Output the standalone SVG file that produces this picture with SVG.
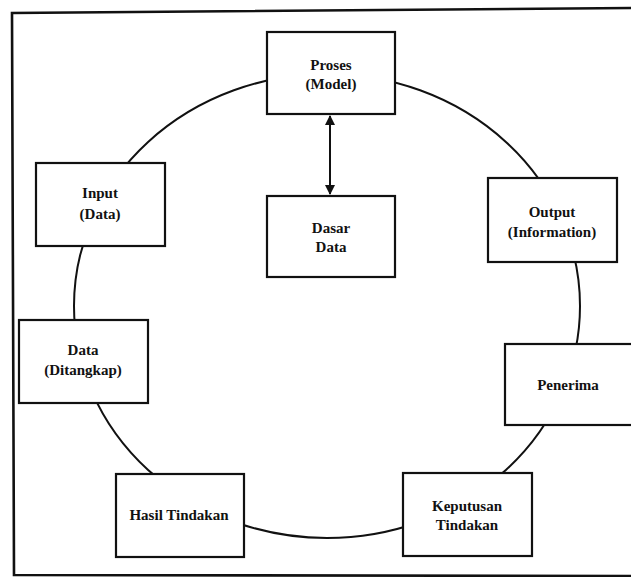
<svg xmlns="http://www.w3.org/2000/svg" width="631" height="577" viewBox="0 0 631 577">
  <style>
    .box { fill: #ffffff; stroke: #111111; stroke-width: 2.2; }
    .lbl { font-family: 'Liberation Serif', 'DejaVu Serif', serif; font-size: 15px; font-weight: 700; fill: #111111; text-anchor: middle; }
    .ring { fill: none; stroke: #111111; stroke-width: 2; }
    .frame { fill: none; stroke: #111111; stroke-width: 2.6; }
    .link { stroke: #111111; stroke-width: 2; fill: none; }
  </style>
  <defs>
    <marker id="head" viewBox="0 0 10 10" refX="9" refY="5" markerWidth="10" markerHeight="10" markerUnits="userSpaceOnUse" orient="auto-start-reverse">
      <path d="M0,0 L10,5 L0,10 Z" fill="#111111"/>
    </marker>
  </defs>

  <rect x="0" y="0" width="631" height="577" fill="#ffffff"/>

  <!-- outer frame (open on the right edge) -->
  <path class="frame" d="M640,8 L12,13 L14,575 L640,576"/>

  <!-- connectors: the cycle ring and the process/database link -->
  <g id="connectors">
    <ellipse class="ring" cx="327" cy="306" rx="253" ry="232"/>
    <line class="link" x1="330" y1="116" x2="330" y2="194" marker-start="url(#head)" marker-end="url(#head)"/>
  </g>

  <g font-family="Liberation Serif, serif">
  <g id="proses">
    <rect class="box" x="267" y="32" width="128" height="82"/>
    <text class="lbl" x="331" y="70">Proses</text>
    <text class="lbl" x="331" y="89">(Model)</text>
  </g>

  <g id="dasar-data">
    <rect class="box" x="267" y="196" width="128" height="81"/>
    <text class="lbl" x="331" y="233">Dasar</text>
    <text class="lbl" x="331" y="252">Data</text>
  </g>

  <g id="input">
    <rect class="box" x="36" y="163" width="129" height="83"/>
    <text class="lbl" x="100" y="198">Input</text>
    <text class="lbl" x="100" y="219">(Data)</text>
  </g>

  <g id="data-ditangkap">
    <rect class="box" x="19" y="320" width="129" height="83"/>
    <text class="lbl" x="83" y="355">Data</text>
    <text class="lbl" x="83" y="375">(Ditangkap)</text>
  </g>

  <g id="output">
    <rect class="box" x="488" y="178" width="129" height="84"/>
    <text class="lbl" x="552" y="217">Output</text>
    <text class="lbl" x="552" y="237">(Information)</text>
  </g>

  <g id="penerima">
    <rect class="box" x="505" y="344" width="140" height="81"/>
    <text class="lbl" x="568" y="390">Penerima</text>
  </g>

  <g id="keputusan-tindakan">
    <rect class="box" x="403" y="473" width="129" height="83"/>
    <text class="lbl" x="467" y="511">Keputusan</text>
    <text class="lbl" x="467" y="530">Tindakan</text>
  </g>

  <g id="hasil-tindakan">
    <rect class="box" x="116" y="474" width="128" height="83"/>
    <text class="lbl" x="179" y="520">Hasil Tindakan</text>
  </g>
  </g>
</svg>
